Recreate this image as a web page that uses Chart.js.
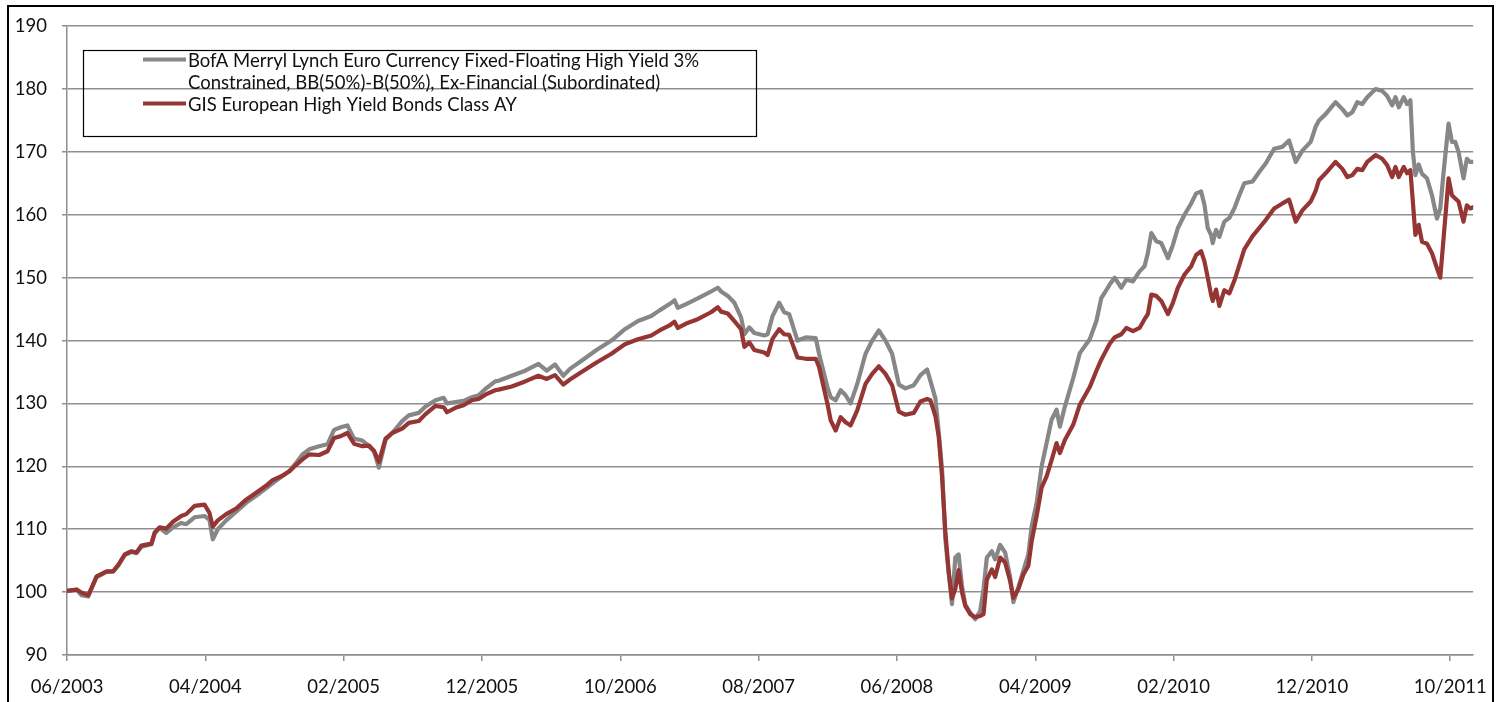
<!DOCTYPE html>
<html>
<head>
<meta charset="utf-8">
<script src="https://cdn.jsdelivr.net/npm/chart.js@4.4.1/dist/chart.umd.min.js"></script>
<style>
  html, body { margin: 0; padding: 0; background: #fff; }
  #chart { display: block; }
</style>
</head>
<body>
<canvas id="chart" width="1502" height="702"></canvas>
<script>
// series names (legend text, first one wraps onto two lines)
const seriesNames = [
  'BofA Merryl Lynch Euro Currency Fixed-Floating High Yield 3%\nConstrained, BB(50%)-B(50%), Ex-Financial (Subordinated)',
  'GIS European High Yield Bonds Class AY'
];
const seriesColors = ['#878787', '#963634'];

// x position of each reading, in months since 1 June 2003
const months = [
  0.00, 0.70, 1.06, 1.54, 2.14, 2.86, 3.34, 3.70, 4.18, 4.66, 5.02, 5.38, 6.10, 6.34, 6.70,
  7.18, 7.66, 8.26, 8.62, 9.22, 9.94, 10.30, 10.54, 10.90, 11.51, 12.23, 12.95, 13.67, 14.39, 14.86,
  15.58, 16.07, 16.55, 17.02, 17.51, 18.23, 18.83, 19.31, 19.79, 20.27, 20.75, 21.35, 21.83, 22.19, 22.55,
  23.03, 23.51, 24.23, 24.71, 25.43, 25.92, 26.64, 27.23, 27.47, 28.08, 28.67, 29.27, 29.76, 30.24, 30.96,
  31.20, 32.15, 33.12, 34.08, 34.68, 35.28, 35.88, 36.36, 37.20, 38.28, 39.36, 40.33, 41.28, 42.24, 42.84,
  43.56, 43.92, 44.16, 44.76, 45.60, 46.56, 47.05, 47.29, 47.77, 48.25, 48.73, 48.97, 49.33, 49.69, 50.41,
  50.65, 51.01, 51.49, 51.85, 52.21, 52.81, 53.41, 54.13, 54.37, 54.97, 55.21, 55.57, 55.93, 56.29, 56.65,
  57.13, 57.73, 58.21, 58.69, 59.17, 59.65, 60.14, 60.61, 61.22, 61.70, 62.18, 62.42, 62.78, 63.02, 63.26,
  63.50, 63.74, 63.98, 64.22, 64.46, 64.70, 64.94, 65.30, 65.66, 66.02, 66.26, 66.50, 66.86, 67.10, 67.46,
  67.82, 68.18, 68.42, 68.78, 69.14, 69.50, 69.74, 70.10, 70.46, 70.82, 71.18, 71.54, 71.78, 72.14, 72.74,
  73.22, 73.94, 74.42, 74.78, 75.02, 75.38, 75.74, 76.22, 76.58, 77.06, 77.54, 77.90, 78.14, 78.39, 78.75,
  79.11, 79.59, 79.95, 80.31, 80.79, 81.27, 81.63, 81.99, 82.23, 82.47, 82.71, 82.83, 83.07, 83.31, 83.67,
  84.03, 84.39, 84.75, 85.11, 85.71, 86.19, 86.67, 87.27, 87.87, 88.35, 88.83, 89.31, 89.91, 90.27, 90.51,
  90.99, 91.71, 92.20, 92.56, 92.92, 93.28, 93.64, 94.00, 94.60, 95.08, 95.44, 95.80, 96.04, 96.28, 96.64,
  96.88, 97.12, 97.30, 97.48, 97.72, 97.96, 98.32, 98.68, 99.04, 99.28, 99.52, 99.88, 100.12, 100.36, 100.60,
  100.96, 101.20, 101.44, 101.66
];

const bofaIndex = [
  100.2, 100.4, 99.5, 99.3, 102.4, 103.2, 103.3, 104.2, 105.9, 106.4, 106.2, 107.2, 107.6, 109.3, 110.2,
  109.4, 110.3, 111.0, 110.8, 111.9, 112.1, 111.5, 108.4, 110.0, 111.4, 112.8, 114.2, 115.3, 116.5, 117.3,
  118.5, 119.2, 120.5, 121.9, 122.7, 123.2, 123.5, 125.8, 126.2, 126.5, 124.4, 124.1, 123.2, 122.4, 119.8,
  124.2, 125.3, 127.2, 128.1, 128.5, 129.5, 130.5, 130.9, 130.0, 130.2, 130.4, 131.0, 131.3, 132.3, 133.5,
  133.6, 134.4, 135.2, 136.3, 135.2, 136.2, 134.4, 135.5, 136.8, 138.5, 140.0, 141.8, 143.1, 143.9, 144.8,
  145.8, 146.4, 145.2, 145.8, 146.7, 147.8, 148.4, 147.8, 147.1, 146.0, 143.7, 141.0, 142.1, 141.2, 140.8,
  141.0, 143.9, 146.0, 144.5, 144.2, 140.0, 140.5, 140.4, 137.9, 132.6, 131.0, 130.5, 132.1, 131.3, 130.0,
  133.1, 137.9, 140.0, 141.6, 140.0, 137.9, 133.0, 132.4, 132.9, 134.5, 135.4, 133.6, 130.8, 125.5, 119.5,
  108.4, 103.0, 98.1, 105.5, 106.0, 101.0, 98.0, 96.7, 95.7, 97.0, 100.5, 105.5, 106.5, 105.2, 107.5,
  106.3, 102.4, 98.4, 100.8, 103.4, 106.0, 110.5, 114.2, 120.0, 123.7, 127.4, 129.0, 126.3, 129.5, 134.0,
  138.0, 140.2, 143.1, 146.8, 147.6, 148.9, 150.0, 148.4, 149.7, 149.4, 151.0, 151.8, 153.9, 157.1, 155.8,
  155.5, 153.1, 155.2, 157.9, 160.0, 161.8, 163.4, 163.7, 161.6, 157.9, 156.8, 155.5, 157.6, 156.5, 158.9,
  159.5, 161.0, 163.1, 165.0, 165.3, 166.8, 168.2, 170.5, 170.8, 171.8, 168.4, 170.2, 171.6, 174.0, 175.0,
  176.0, 177.9, 176.8, 175.8, 176.3, 177.9, 177.6, 178.7, 180.0, 179.7, 178.9, 177.4, 178.7, 177.1, 178.7,
  177.6, 178.2, 170.0, 166.3, 168.0, 166.5, 165.8, 163.1, 159.4, 161.0, 166.8, 174.5, 171.6, 171.6, 170.0,
  165.8, 168.9, 168.4, 168.4
];

const gisFund = [
  100.2, 100.4, 99.9, 99.5, 102.5, 103.3, 103.3, 104.3, 106.0, 106.5, 106.3, 107.4, 107.7, 109.5, 110.3,
  110.1, 111.2, 112.1, 112.4, 113.7, 113.9, 112.6, 110.4, 111.4, 112.4, 113.3, 114.7, 115.8, 116.9, 117.8,
  118.5, 119.2, 120.2, 121.1, 121.9, 121.8, 122.4, 124.5, 124.8, 125.3, 123.6, 123.2, 123.3, 122.5, 120.7,
  124.4, 125.3, 126.0, 126.9, 127.2, 128.3, 129.6, 129.4, 128.6, 129.3, 129.7, 130.5, 130.7, 131.4, 132.1,
  132.2, 132.7, 133.5, 134.4, 133.9, 134.5, 133.0, 133.8, 135.0, 136.5, 137.9, 139.4, 140.2, 140.8, 141.6,
  142.4, 143.0, 142.0, 142.7, 143.4, 144.5, 145.3, 144.6, 144.3, 143.1, 141.8, 139.0, 139.7, 138.5, 138.1,
  137.7, 140.3, 141.8, 141.0, 140.9, 137.3, 137.1, 137.1, 135.8, 130.0, 127.3, 125.7, 127.8, 127.0, 126.5,
  128.9, 133.1, 134.7, 135.9, 134.7, 132.9, 128.7, 128.2, 128.5, 130.3, 130.7, 130.5, 128.0, 124.7, 118.4,
  109.6, 103.3, 99.0, 100.5, 103.5, 100.0, 97.8, 96.5, 96.0, 96.2, 96.5, 102.0, 103.6, 102.4, 105.5,
  104.7, 101.8, 99.1, 100.5, 102.8, 104.2, 108.1, 112.1, 116.6, 118.4, 121.0, 123.7, 122.1, 124.2, 126.6,
  129.8, 132.6, 135.2, 137.0, 138.0, 139.5, 140.5, 141.0, 142.0, 141.5, 142.0, 143.4, 144.2, 147.3, 147.1,
  146.3, 144.2, 146.0, 148.4, 150.5, 151.8, 153.6, 154.2, 152.6, 150.0, 147.3, 146.3, 148.1, 145.5, 148.0,
  147.5, 149.5, 152.0, 154.5, 156.6, 157.9, 159.2, 161.0, 161.8, 162.4, 158.9, 160.7, 162.1, 163.8, 165.5,
  166.6, 168.4, 167.3, 166.0, 166.3, 167.3, 167.1, 168.4, 169.5, 168.9, 167.9, 166.0, 167.6, 166.0, 167.6,
  166.6, 167.1, 162.0, 156.8, 158.4, 155.7, 155.4, 153.9, 151.5, 150.0, 156.3, 165.8, 163.1, 162.6, 162.1,
  158.9, 161.5, 161.0, 161.2
];

// axis
const xTickLabels = ['06/2003', '04/2004', '02/2005', '12/2005', '10/2006', '08/2007',
  '06/2008', '04/2009', '02/2010', '12/2010', '10/2011'];
const xTickStep = 10;      // months between labels
const xEnd = 101.66;       // last month shown
const yMin = 90, yMax = 190, yStep = 10;

const toPoints = (vals) => vals.map((v, i) => ({ x: months[i], y: v }));

const fontFamily = 'Lato, "Open Sans", sans-serif';
const gridColor = '#8f8f8f';

const frameAndLegend = {
  id: 'frameAndLegend',
  afterDraw(chart) {
    const ctx = chart.ctx;
    ctx.save();
    // outer frame
    ctx.strokeStyle = '#000';
    ctx.lineWidth = 2;
    ctx.strokeRect(8, 6, 1485, 705);
    // legend box
    ctx.lineWidth = 1.2;
    ctx.strokeRect(83.5, 50.5, 673, 86);

    ctx.font = '18.5px ' + fontFamily;
    ctx.fillStyle = '#111';
    ctx.textBaseline = 'middle';
    const rows = [[61, 83.5], [105]];
    chart.data.datasets.forEach((ds, i) => {
      const ys = rows[i];
      ctx.strokeStyle = ds.borderColor;
      ctx.lineWidth = 4;
      ctx.beginPath();
      ctx.moveTo(143, ys[0] - 1.5);
      ctx.lineTo(186, ys[0] - 1.5);
      ctx.stroke();
      ds.label.split('\n').forEach((line, j) => {
        ctx.fillText(line, 188, ys[j]);
      });
    });
    ctx.restore();
  }
};

new Chart(document.getElementById('chart'), {
  type: 'line',
  data: {
    datasets: [
      {
        label: seriesNames[0],
        data: toPoints(bofaIndex),
        borderColor: seriesColors[0],
        borderWidth: 4.2,
        pointRadius: 0,
        order: 2
      },
      {
        label: seriesNames[1],
        data: toPoints(gisFund),
        borderColor: seriesColors[1],
        borderWidth: 4.2,
        pointRadius: 0,
        order: 1
      }
    ]
  },
  options: {
    responsive: false,
    animation: false,
    devicePixelRatio: 1,
    layout: { padding: { left: 0, right: 24, top: 23, bottom: 0 } },
    plugins: { legend: { display: false }, tooltip: { enabled: false } },
    elements: { line: { tension: 0, borderJoinStyle: 'round', borderCapStyle: 'round' } },
    scales: {
      x: {
        type: 'linear',
        min: 0,
        max: xEnd,
        afterFit: (s) => { s.height = 47; },
        grid: { drawOnChartArea: false, drawTicks: true, tickLength: 6, color: gridColor, lineWidth: 1.5 },
        border: { display: true, color: gridColor, width: 1.5 },
        ticks: {
          stepSize: xTickStep,
          includeBounds: false,
          autoSkip: false,
          maxRotation: 0,
          padding: 15,
          color: '#111',
          font: { family: fontFamily, size: 18.5 },
          callback: (v) => xTickLabels[Math.round(v / xTickStep)] || ''
        }
      },
      y: {
        min: yMin,
        max: yMax,
        afterFit: (s) => { s.width = 67; },
        grid: { color: gridColor, lineWidth: 1.5, tickLength: 5 },
        border: { display: true, color: gridColor, width: 1.5 },
        ticks: {
          stepSize: yStep,
          padding: 15,
          color: '#111',
          font: { family: fontFamily, size: 18.5 }
        }
      }
    }
  },
  plugins: [frameAndLegend]
});
</script>
</body>
</html>
